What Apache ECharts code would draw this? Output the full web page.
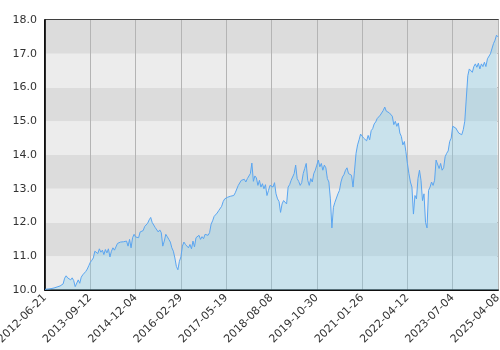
<!DOCTYPE html>
<html>
<head>
<meta charset="utf-8">
<script src="https://cdn.jsdelivr.net/npm/echarts@6/dist/echarts.min.js"></script>
<style>html,body{margin:0;padding:0;background:#fff}#c{width:500px;height:350px}</style>
</head>
<body>
<div id="c"></div>
<script>
const tickLabels = ["2012-06-21","2013-09-12","2014-12-04","2016-02-29","2017-05-19","2018-08-08","2019-10-30","2021-01-26","2022-04-12","2023-07-04","2025-04-08"];
const pointsPerTick = 30;
const seg1 = [10.02,10.02,10.03,10.03,10.04,10.05,10.06,10.08,10.09,10.10,10.12,10.15,10.18,10.35,10.42,10.36,10.38,10.30,10.36,10.28,10.10,10.05,10.30,10.20,10.38,10.45,10.40,10.55,10.62,10.72];
const seg2 = [10.82,10.88,10.95,11.15,11.20,11.08,11.22,11.12,11.18,11.05,11.20,11.10,11.22,10.98,11.15,11.25,11.18,11.22,11.38,11.35,11.42,11.38,11.43,11.40,11.45,11.30,11.50,11.25,11.55,11.65];
const seg3 = [11.57,11.62,11.55,11.72,11.70,11.76,11.88,11.85,11.98,12.08,12.15,12.00,11.95,11.85,11.80,11.72,11.78,11.70,11.30,11.45,11.65,11.58,11.50,11.42,11.25,11.15,10.95,10.70,10.60,10.85];
const seg4 = [10.98,11.30,11.42,11.35,11.40,11.25,11.35,11.22,11.45,11.28,11.55,11.52,11.62,11.50,11.58,11.52,11.65,11.60,11.62,11.70,11.95,12.05,12.18,12.20,12.28,12.35,12.40,12.48,12.62,12.70];
const seg5 = [12.72,12.75,12.70,12.78,12.82,12.80,12.88,12.92,13.10,13.15,13.25,13.22,13.28,13.20,13.30,13.28,13.45,13.76,13.22,13.38,13.32,13.10,13.25,13.05,13.15,13.00,13.12,12.80,12.95,13.10];
const seg6 = [13.12,13.05,13.18,12.85,12.70,12.62,12.30,12.55,12.65,12.62,12.55,13.05,13.12,13.25,13.30,13.45,13.70,13.30,13.22,13.10,13.18,13.45,13.60,13.75,13.25,13.10,13.30,13.20,13.45,13.55];
const seg7 = [13.70,13.85,13.65,13.75,13.55,13.70,13.62,13.30,13.20,12.70,11.84,12.45,12.60,12.55,12.85,12.95,13.20,13.35,13.42,13.55,13.62,13.45,13.50,13.40,13.05,13.55,14.05,14.30,14.45,14.62];
const seg8 = [14.58,14.50,14.55,14.42,14.58,14.45,14.72,14.78,14.92,14.98,15.08,15.12,15.18,15.15,15.32,15.42,15.30,15.35,15.25,15.30,15.15,14.90,15.00,14.85,14.95,14.65,14.55,14.30,14.40,14.10];
const seg9 = [13.75,13.45,13.20,13.05,12.25,12.80,12.70,13.30,13.55,13.25,12.65,12.85,12.00,11.84,12.95,13.05,13.20,13.10,13.25,13.85,13.90,13.60,13.75,13.55,13.62,13.95,14.05,14.12,14.40,14.50];
const seg10 = [14.85,14.90,14.80,14.75,14.65,14.70,14.60,14.75,15.00,15.05,16.35,16.55,16.60,16.45,16.62,16.70,16.60,16.72,16.55,16.70,16.62,16.75,16.62,16.85,16.90,17.00,17.05,17.30,17.40,17.55,17.50];
const values = [].concat(seg1,seg2,seg3,seg4,seg5,seg6,seg7,seg8,seg9,seg10);
const yTicks = [10,11,12,13,14,15,16,17,18];

const chart = echarts.init(document.getElementById('c'), null, {renderer:'canvas'});
chart.setOption({
  animation:false,
  backgroundColor:'#ffffff',
  grid:{left:45,right:2,top:20,bottom:60,show:true,borderColor:'#000',borderWidth:1.5,backgroundColor:'transparent',containLabel:false,outerBoundsMode:'none'},
  xAxis:{
    type:'value', min:0, max:(tickLabels.length-1)*pointsPerTick, interval:pointsPerTick,
    axisLine:{show:true,lineStyle:{color:'#000',width:1.5}},
    axisTick:{show:false},
    splitLine:{show:true,lineStyle:{color:'#b4b4b4',width:1}},
    axisLabel:{rotate:45,color:'#333',fontSize:11,fontFamily:'DejaVu Sans',margin:6,showMaxLabel:true,showMinLabel:true,hideOverlap:false,
      formatter:function(v){return tickLabels[Math.round(v/pointsPerTick)]||'';}}
  },
  yAxis:{
    type:'value', min:yTicks[0], max:yTicks[yTicks.length-1], interval:1,
    axisLine:{show:true,lineStyle:{color:'#000',width:1.5}},
    axisTick:{show:false},
    splitLine:{show:false},
    splitArea:{show:true,areaStyle:{color:['#ececec','#dcdcdc']}},
    axisLabel:{color:'#333',fontSize:11,fontFamily:'DejaVu Sans',margin:8,formatter:function(v){return v.toFixed(1);}}
  },
  series:[{
    type:'line', showSymbol:false, symbol:'none',
    data: values.map(function(v,i){return [i,v];}),
    lineStyle:{color:'#5aa5f0',width:1},
    areaStyle:{color:'rgba(135,206,235,0.5)',origin:'start'}
  }]
});
</script>
</body>
</html>
